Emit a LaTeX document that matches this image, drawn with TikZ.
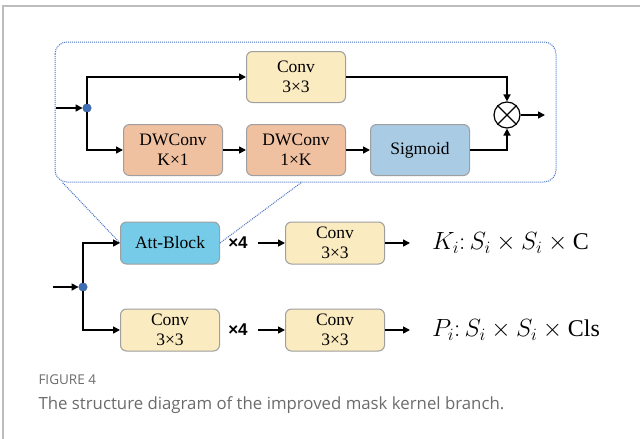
\documentclass[tikz,border=0pt]{standalone}
\usepackage{fontspec}
\setmainfont{Liberation Serif}
\newfontfamily\capfont{Open Sans}
\newfontfamily\repfont{Liberation Sans}
\usetikzlibrary{calc}
\usetikzlibrary{arrows.meta}

\definecolor{convyellow}{HTML}{FAEBC0}
\definecolor{dwsalmon}{HTML}{F0C1A1}
\definecolor{sigblue}{HTML}{A9CCE4}
\definecolor{attcyan}{HTML}{76CCE8}
\definecolor{dotblue}{HTML}{3E6FB5}
\definecolor{linkblue}{HTML}{4472C4}
\definecolor{framegray}{HTML}{BDBDBD}
\definecolor{captiongray}{HTML}{6B6B6B}

\begin{document}
\begin{tikzpicture}[x=1pt, y=-1pt,
    block/.style={draw=gray!75, line width=1pt, rounded corners=6pt,
        minimum width=99pt, minimum height=51pt, align=center,
        font=\fontsize{17.5}{20}\selectfont},
    flow/.style={line width=1.6pt, -{Triangle[length=7pt, width=7pt]}},
    junction/.style={circle, fill=dotblue, draw=dotblue!80!black,
        inner sep=0pt, minimum size=8.5pt},
    rep/.style={font=\repfont\bfseries\fontsize{17}{19}\selectfont, inner xsep=10pt},
    result/.style={font=\fontsize{24}{28}\selectfont, anchor=west, inner xsep=22pt},
    link/.style={linkblue, densely dotted, line width=1pt}]

\useasboundingbox (0,0) rectangle (640,439);

% Page frame
\draw[framegray, line width=1.5pt] (3,439) -- (3,6) -- (640,6);

% Attention block detail
\draw[link, rounded corners=12pt] (55,42) rectangle (556,182);

\coordinate (in1) at (56,108);
\node[junction] (split1) at (87,108) {};
\node[block, fill=convyellow] (conv0) at (296,77) {Conv\\3×3};
\node[block, fill=dwsalmon] (dwk1) at (173,150) {DWConv\\K×1};
\node[block, fill=dwsalmon] (dw1k) at (296,150) {DWConv\\1×K};
\node[block, fill=sigblue] (sig) at (420,150) {Sigmoid};
\node[circle, draw, line width=1.2pt, minimum size=26pt, inner sep=0pt] (mul) at (507,115) {};
\draw[line width=1.2pt] (mul.north west) -- (mul.south east);
\draw[line width=1.2pt] (mul.north east) -- (mul.south west);
\coordinate (out0) at (545,115);

\draw[flow] (in1) -- (split1);
\draw[flow] (split1) |- (conv0);
\draw[flow] (split1) |- (dwk1);
\draw[flow] (dwk1) -- (dw1k);
\draw[flow] (dw1k) -- (sig);
\draw[flow] (conv0) -| (mul);
\draw[flow] (sig) -| (mul);
\draw[flow] (mul) -- (out0);

% Kernel branch
\coordinate (in2) at (53,287);
\node[junction] (split2) at (83,287) {};
\node[block, fill=attcyan, minimum height=42pt] (att) at (170,243) {Att-Block};
\node[block, fill=convyellow, minimum height=42pt] (conv1) at (170,330) {Conv\\3×3};
\node[rep] (rep1) at (238,243) {×4};
\node[rep] (rep2) at (238,330) {×4};
\node[block, fill=convyellow, minimum height=42pt] (conv2) at (335,243) {Conv\\3×3};
\node[block, fill=convyellow, minimum height=42pt] (conv3) at (335,330) {Conv\\3×3};
\node[result] (kout) at (410,243) {$K_i{:}\,S_i \times S_i \times \mathrm{C}$};
\node[result] (pout) at (410,330) {$P_i{:}\,S_i \times S_i \times \mathrm{Cls}$};

\draw[flow] (in2) -- (split2);
\draw[flow] (split2) |- (att);
\draw[flow] (split2) |- (conv1);
\draw[flow] (rep1) -- (conv2);
\draw[flow] (rep2) -- (conv3);
\draw[flow] (conv2) -- (kout);
\draw[flow] (conv3) -- (pout);

% Zoom lines
\coordinate (boxl) at (62,182);
\coordinate (boxr) at (302,182);
\draw[link] (att.west) -- (boxl);
\draw[link] (att.east) -- (boxr);

% Caption
\node[anchor=west, captiongray, font=\capfont\fontsize{13.5}{15}\selectfont] (fignum) at (35,380) {FIGURE 4};
\node[anchor=west, captiongray, font=\capfont\fontsize{16.8}{19}\selectfont] (caption) at (35,405) {The structure diagram of the improved mask kernel branch.};

\end{tikzpicture}
\end{document}
